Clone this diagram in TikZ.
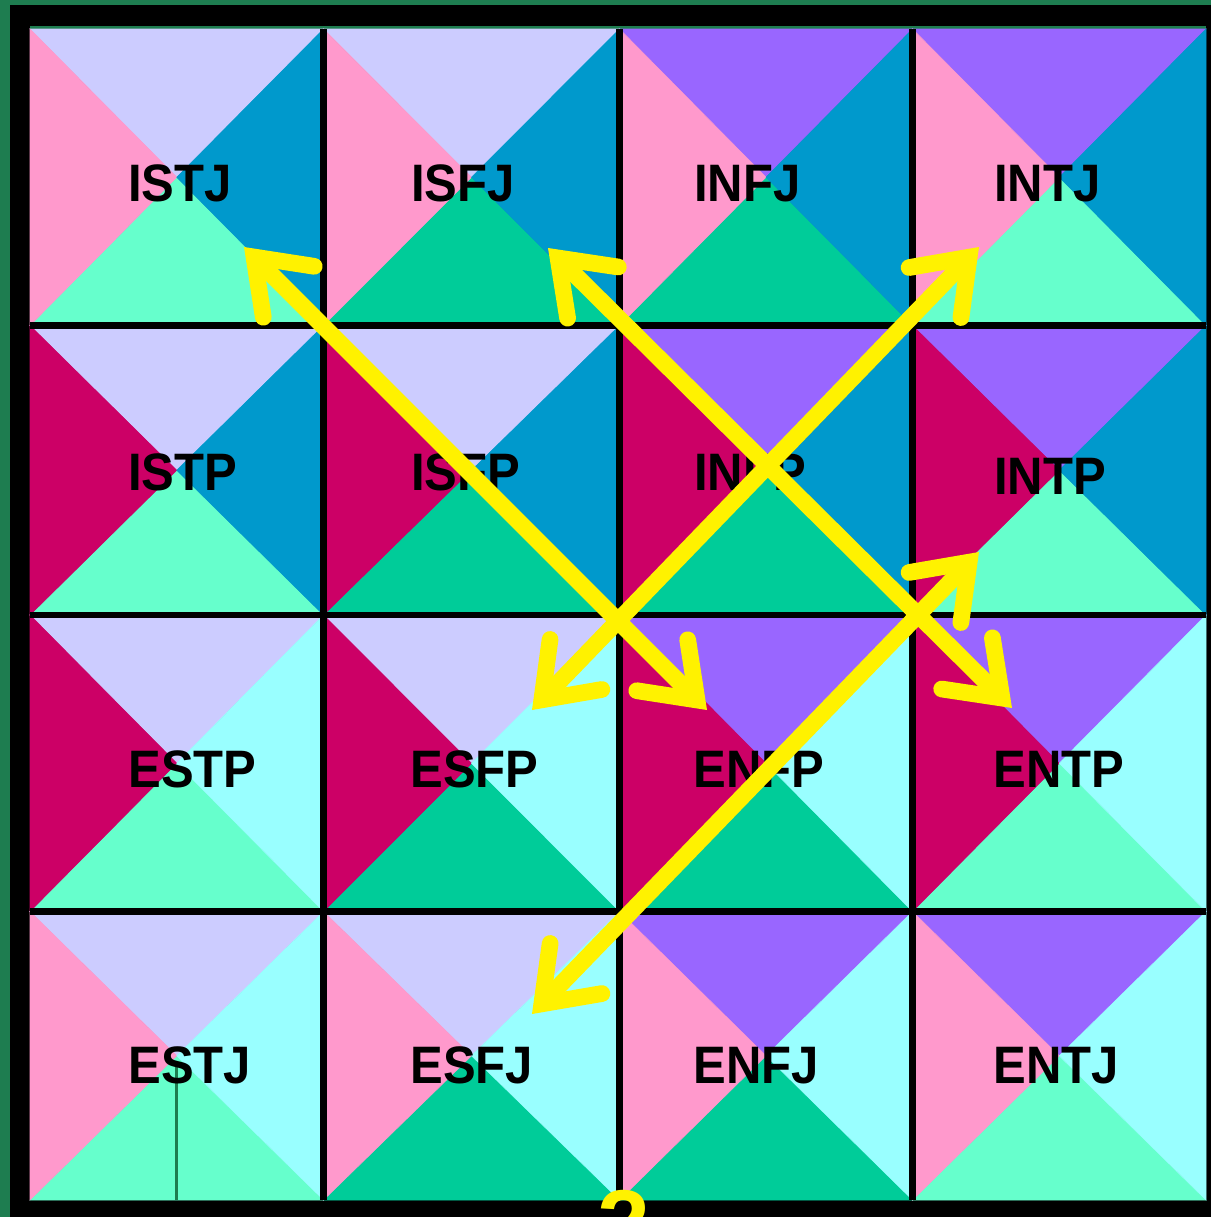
\documentclass[tikz,border=0pt]{standalone}
\usepackage{fontspec}
\setmainfont{Liberation Sans}
\newfontfamily\mbtifont[FakeStretch=0.93]{Liberation Sans}
\usetikzlibrary{arrows.meta,calc}
\definecolor{scolor}{RGB}{204,204,255}
\definecolor{ncolor}{RGB}{153,102,255}
\definecolor{jcolor}{RGB}{255,153,204}
\definecolor{pcolor}{RGB}{204,0,102}
\definecolor{icolor}{RGB}{0,153,204}
\definecolor{ecolor}{RGB}{153,255,255}
\definecolor{tcolor}{RGB}{102,255,204}
\definecolor{fcolor}{RGB}{0,204,153}
\definecolor{dotgreen}{RGB}{30,125,80}

\begin{document}
\begin{tikzpicture}[
    x=0.02cm, y=-0.02cm,
    mbti/.style={anchor=base west, inner sep=0pt, font=\mbtifont\bfseries\fontsize{30}{30}\selectfont},
    grid/.style={black, line width=3.7pt},
    dbl/.style={{Straight Barb[length=28pt, width=41pt, line cap=round, line join=miter]}-{Straight Barb[length=28pt, width=41pt, line cap=round, line join=miter]}, yellow, line width=9.5pt}
]
    % Frame
    \fill[black] (0,0) rectangle (1211,1217);
    \useasboundingbox (0,0) rectangle (1211,1217);
    \fill[dotgreen] (0,0) rectangle (10,1217);
    \fill[dotgreen] (0,0) rectangle (1211,5);
    \fill[dotgreen] (30,26) rectangle (1206,29);

    % Cells: top/bottom by column, left/right by row
    \foreach \xa/\xb/\tc/\bc in {30/323.5/scolor/tcolor, 323.5/619.5/scolor/fcolor, 619.5/912.5/ncolor/fcolor, 912.5/1206/ncolor/tcolor}
      \foreach \ya/\yb/\lc/\rc in {29/325.5/jcolor/icolor, 325.5/615/pcolor/icolor, 615/911.5/pcolor/ecolor, 911.5/1200/jcolor/ecolor} {
        \coordinate (m) at ({(\xa+\xb)/2},{(\ya+\yb)/2});
        \filldraw[\tc, line width=0.3pt] (\xa,\ya) -- (\xb,\ya) -- (m) -- cycle;
        \filldraw[\bc, line width=0.3pt] (\xa,\yb) -- (\xb,\yb) -- (m) -- cycle;
        \filldraw[\lc, line width=0.3pt] (\xa,\ya) -- (\xa,\yb) -- (m) -- cycle;
        \filldraw[\rc, line width=0.3pt] (\xb,\ya) -- (\xb,\yb) -- (m) -- cycle;
      }
    \draw[dotgreen, line width=1.2pt] (176.5,1067) -- (176.5,1200);

    % Grid lines
    \foreach \gx in {323.5,619.5,912.5}
      \draw[grid] (\gx,29) -- (\gx,1200);
    \foreach \gy in {325.5,615,911.5}
      \draw[grid] (30,\gy) -- (1206,\gy);

    % Labels
    \node[mbti] (istj) at (128,201) {ISTJ};
    \node[mbti] (isfj) at (411,201) {ISFJ};
    \node[mbti] (infj) at (694,201) {INFJ};
    \node[mbti] (intj) at (994,201) {INTJ};
    \node[mbti] (istp) at (128,490) {ISTP};
    \node[mbti] (isfp) at (411,490) {ISFP};
    \node[mbti] (infp) at (694,490) {INFP};
    \node[mbti] (intp) at (994,494) {INTP};
    \node[mbti] (estp) at (128,787) {ESTP};
    \node[mbti] (esfp) at (410,787) {ESFP};
    \node[mbti] (enfp) at (693,787) {ENFP};
    \node[mbti] (entp) at (993,787) {ENTP};
    \node[mbti] (estj) at (128,1083) {ESTJ};
    \node[mbti] (esfj) at (410,1083) {ESFJ};
    \node[mbti] (enfj) at (693,1083) {ENFJ};
    \node[mbti] (entj) at (993,1083) {ENTJ};

    % Arrow ends
    \coordinate (istj-tip) at (244,247);
    \coordinate (enfp-tip) at (707,710);
    \coordinate (isfj-tip) at (548,248);
    \coordinate (entp-tip) at (1012,708);
    \coordinate (intj-tip) at (979,247);
    \coordinate (esfp-tip) at (532,710);
    \coordinate (intp-tip) at (979,552);
    \coordinate (esfj-tip) at (532,1014);

    % Arrows
    \draw[dbl] (istj-tip) -- (enfp-tip);
    \draw[dbl] (isfj-tip) -- (entp-tip);
    \draw[dbl] (intj-tip) -- (esfp-tip);
    \draw[dbl] (intp-tip) -- (esfj-tip);

    \node[anchor=base, inner sep=0pt, text=yellow, font=\bfseries\fontsize{54}{54}\selectfont] (two) at (624,1256) {2};
\end{tikzpicture}
\end{document}
